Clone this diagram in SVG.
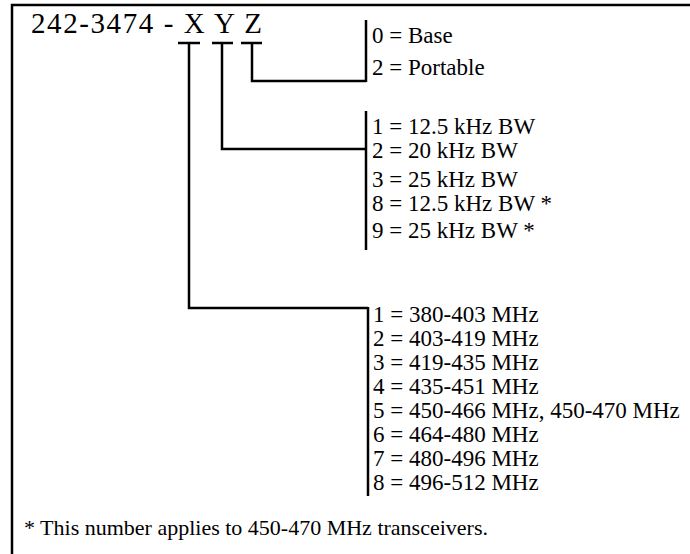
<svg xmlns="http://www.w3.org/2000/svg" width="690" height="554" viewBox="0 0 690 554">
<style>
.ln{fill:none;stroke:#000;stroke-width:2.5}
.t{font-family:"Liberation Serif","Times New Roman",serif;font-size:23px;fill:#000}
.fn{font-family:"Liberation Serif","Times New Roman",serif;font-size:22px;fill:#000}
.title{font-family:"Liberation Serif","Times New Roman",serif;font-size:29px;fill:#000}
</style>
<rect width="690" height="554" fill="#fff"/>
<path class="ln" d="M12,560 V5 H700"/>
<g id="title"><text class="title" x="31" y="33" textLength="231" lengthAdjust="spacing">242-3474 - X Y Z</text></g>
<g id="connectors">
<path class="ln" d="M178,43 H200 M189,43 V308 H368"/>
<path class="ln" d="M212,43 H233 M222,43 V149 H366"/>
<path class="ln" d="M241,43 H262 M252,43 V81 H366"/>
</g>
<g id="z-options">
<path class="ln" d="M366,20 V82"/>
<text class="t" x="372" y="43">0 = Base</text>
<text class="t" x="372" y="75">2 = Portable</text>
</g>
<g id="y-options">
<path class="ln" d="M366,111 V250"/>
<text class="t" x="372" y="134">1 = 12.5 kHz BW</text>
<text class="t" x="372" y="158">2 = 20 kHz BW</text>
<text class="t" x="372" y="187">3 = 25 kHz BW</text>
<text class="t" x="372" y="211">8 = 12.5 kHz BW *</text>
<text class="t" x="372" y="238">9 = 25 kHz BW *</text>
</g>
<g id="x-options">
<path class="ln" d="M368,307 V496"/>
<text class="t" x="373" y="322">1 = 380-403 MHz</text>
<text class="t" x="373" y="346">2 = 403-419 MHz</text>
<text class="t" x="373" y="370">3 = 419-435 MHz</text>
<text class="t" x="373" y="394">4 = 435-451 MHz</text>
<text class="t" x="373" y="418">5 = 450-466 MHz, 450-470 MHz</text>
<text class="t" x="373" y="442">6 = 464-480 MHz</text>
<text class="t" x="373" y="466">7 = 480-496 MHz</text>
<text class="t" x="373" y="490">8 = 496-512 MHz</text>
</g>
<g id="footnote"><text class="fn" x="24" y="535">* This number applies to 450-470 MHz transceivers.</text></g>
</svg>
